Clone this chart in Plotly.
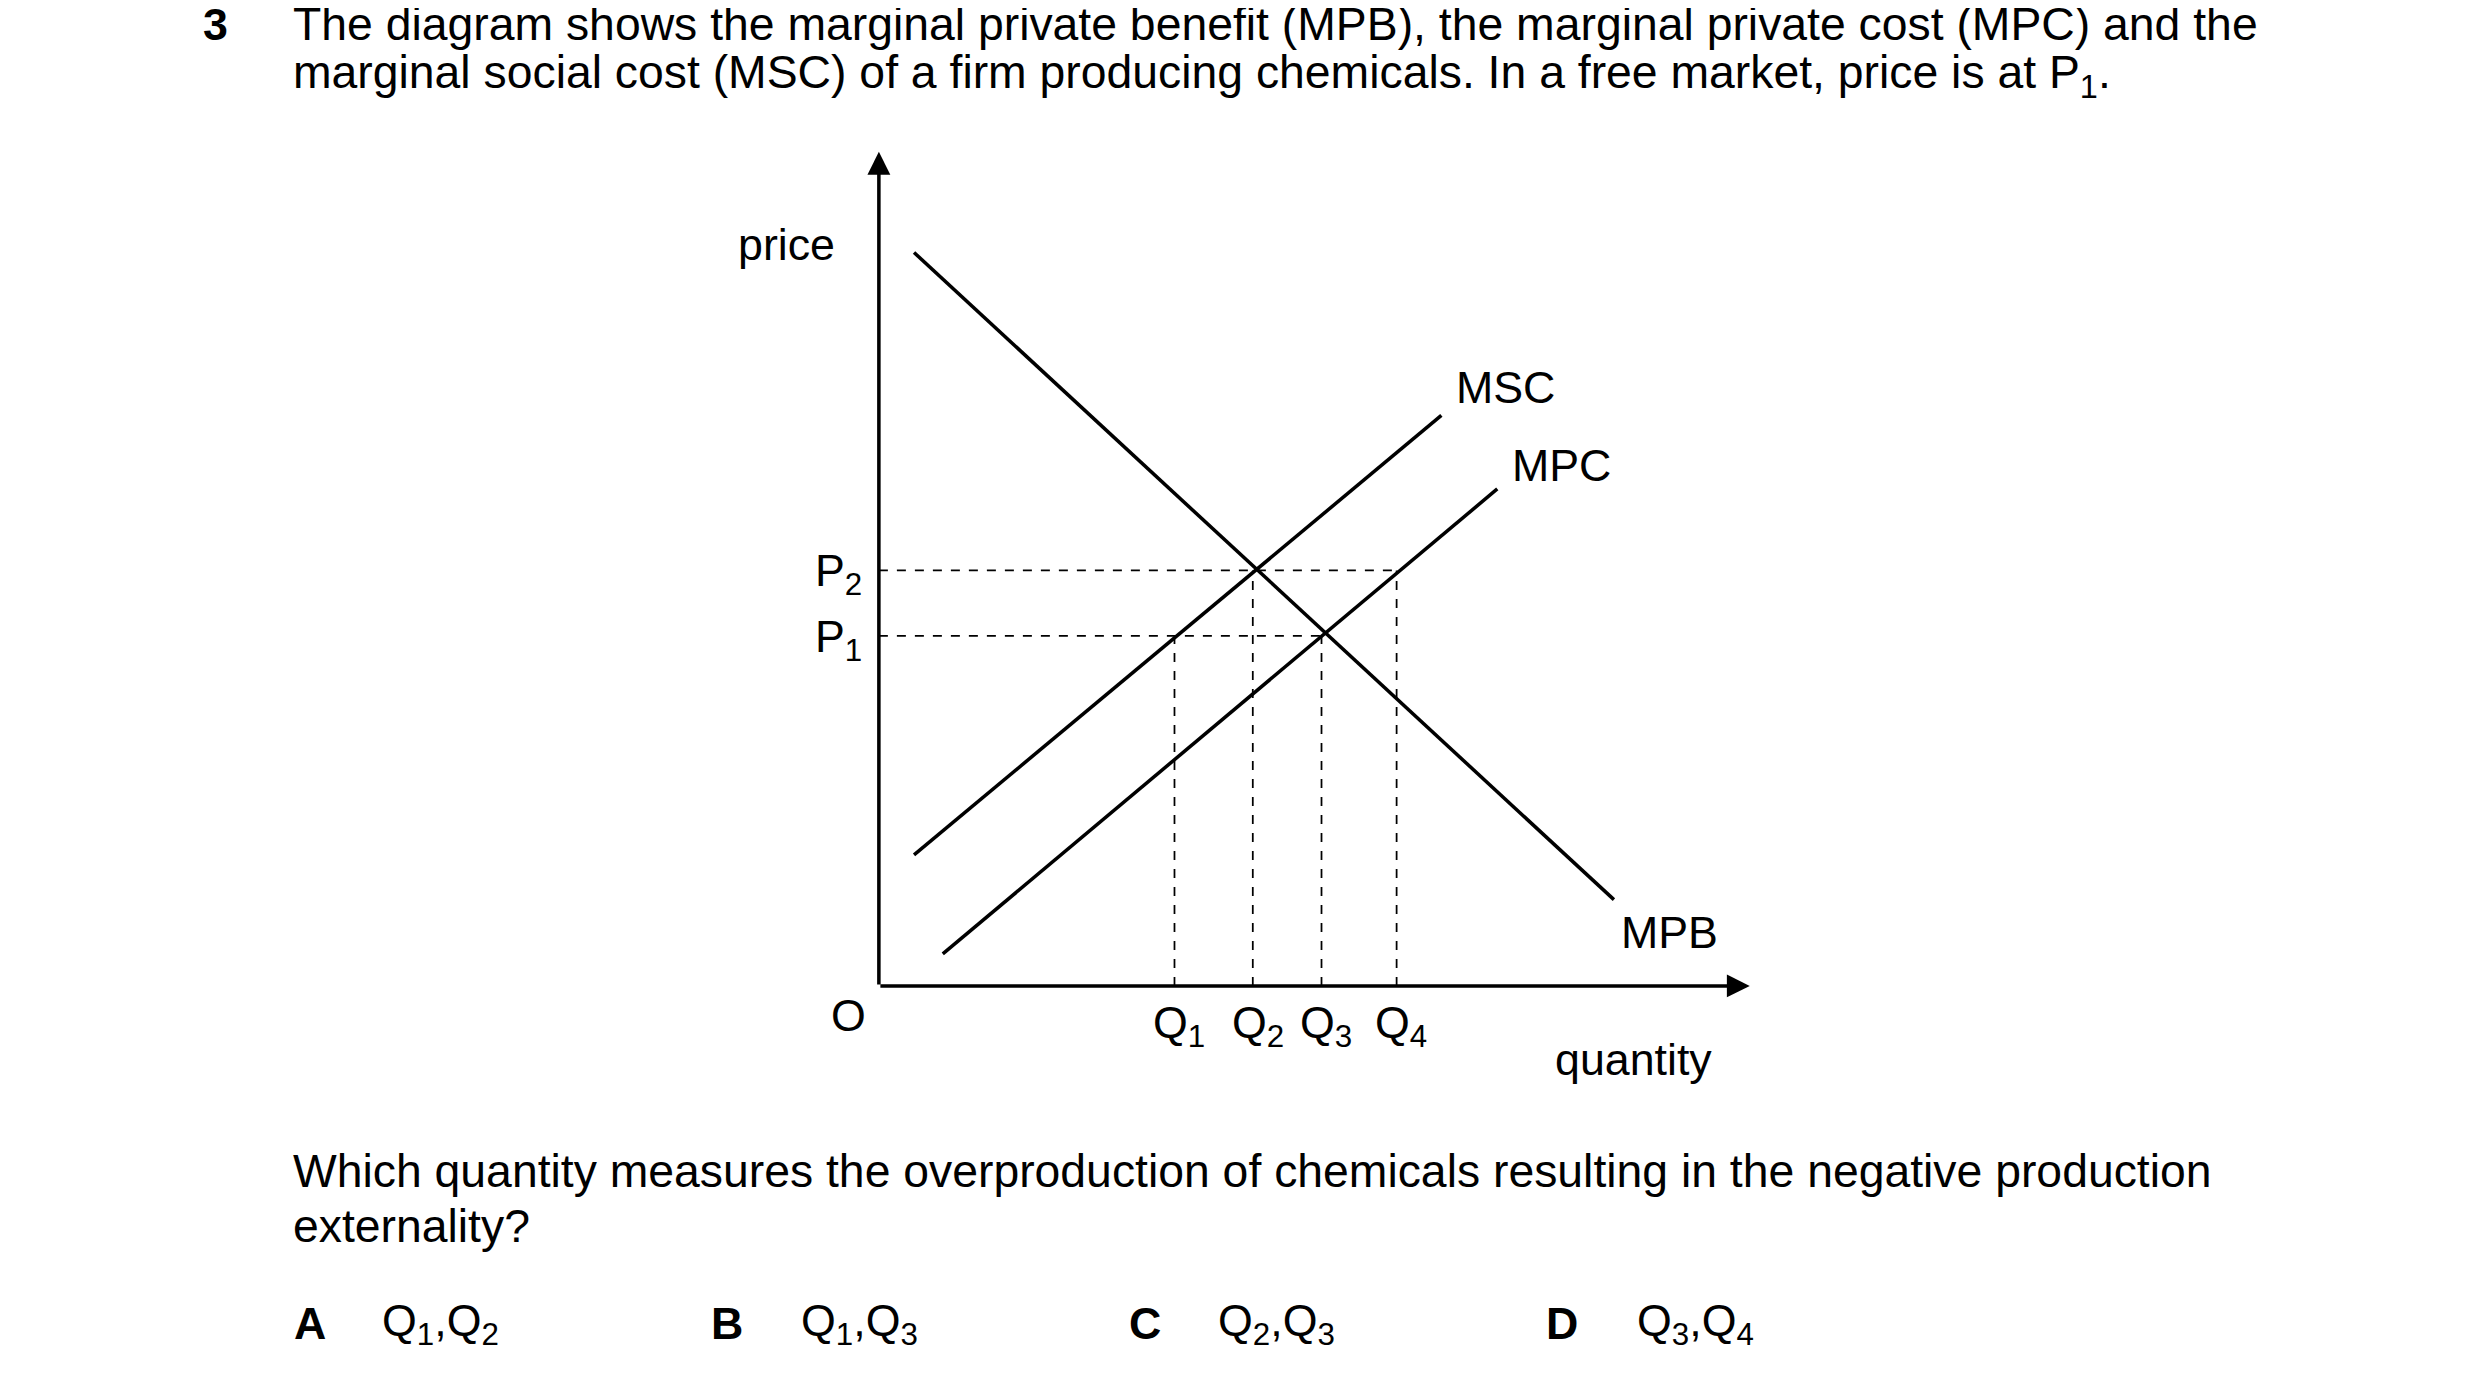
import plotly.graph_objects as go

S = 2480/1552  # display-to-pixel scale
# Economic diagram data (quantity, price units; origin at O)
mpb_q = [22, 460]; mpb_p = [459, 54]
msc_q = [22, 352]; msc_p = [82, 357]
mpc_q = [40, 387]; mpc_p = [20, 311]
P_levels = {"P2": 260, "P1": 219}
Q_levels = {"Q1": 185, "Q2": 234, "Q3": 277, "Q4": 324}
Q_tops = {"Q1": 219, "Q2": 260, "Q3": 219, "Q4": 260}
P_ends = {"P2": 324, "P1": 277}

FONT = "Liberation Sans, Arial, sans-serif"
LW = 2.2*S
fig = go.Figure()
for q, p in [(mpb_q, mpb_p), (msc_q, msc_p), (mpc_q, mpc_p)]:
    fig.add_trace(go.Scatter(x=q, y=p, mode="lines", line=dict(color="black", width=LW)))
for k, v in P_levels.items():
    fig.add_trace(go.Scatter(x=[0, P_ends[k]], y=[v, v], mode="lines",
                             line=dict(color="black", width=1.1*S, dash="dash")))
for k, v in Q_levels.items():
    fig.add_trace(go.Scatter(x=[v, v], y=[0, Q_tops[k]], mode="lines",
                             line=dict(color="black", width=1.1*S, dash="dash")))

def txt(x, y, t, size=25, anchor="center", bold=False):
    if bold: t = "<b>"+t+"</b>"
    fig.add_annotation(x=x-555, y=622-y, text=t, showarrow=False, xanchor=anchor,
                       yanchor="middle", font=dict(family=FONT, size=size*S, color="black"))

# axes arrows
for xe, ye in [(0, 622-100), (1100-555, 0)]:
    fig.add_annotation(x=xe, y=ye, ax=0, ay=0, axref="x", ayref="y", xref="x", yref="y",
                       showarrow=True, arrowhead=2, arrowsize=1.3, arrowwidth=LW,
                       arrowcolor="black", text="")

T = 29
L = 28
txt(140, 20, "3", 28, bold=True)
txt(187, 20, "The diagram shows the marginal private benefit (MPB), the marginal private cost (MPC) and the", T, "left")
txt(187, 52, "marginal social cost (MSC) of a firm producing chemicals. In a free market, price is at P<sub>1</sub>.", T, "left")
txt(497, 158, "price", L)
txt(947, 247, "MSC", L)
txt(982, 296, "MPC", L)
txt(1050, 588, "MPB", L)
txt(536, 640, "O", L)
txt(1027, 668, "quantity", L)
txt(530, 364, "P<sub>2</sub>", L)
txt(530, 405, "P<sub>1</sub>", L)
for name, px in [("Q<sub>1</sub>", 743), ("Q<sub>2</sub>", 792), ("Q<sub>3</sub>", 835), ("Q<sub>4</sub>", 882)]:
    txt(px, 647, name, L)
txt(187, 738, "Which quantity measures the overproduction of chemicals resulting in the negative production", T, "left")
txt(187, 772, "externality?", T, "left")
for lab, lx, val, vx in [("A", 188, "Q<sub>1</sub>,Q<sub>2</sub>", 243), ("B", 449, "Q<sub>1</sub>,Q<sub>3</sub>", 505),
                         ("C", 710, "Q<sub>2</sub>,Q<sub>3</sub>", 766), ("D", 971, "Q<sub>3</sub>,Q<sub>4</sub>", 1028)]:
    txt(lx, 833, lab, 28, "left", bold=True)
    txt(vx, 833, val, L, "left")

fig.update_xaxes(range=[-545, 1552-545], visible=False, fixedrange=True)
fig.update_yaxes(range=[612-863, 612], visible=False, fixedrange=True)
fig.update_layout(width=2480, height=1379, margin=dict(l=0, r=0, t=0, b=0),
                  plot_bgcolor="white", paper_bgcolor="white", showlegend=False)
fig.write_html("out.html")
